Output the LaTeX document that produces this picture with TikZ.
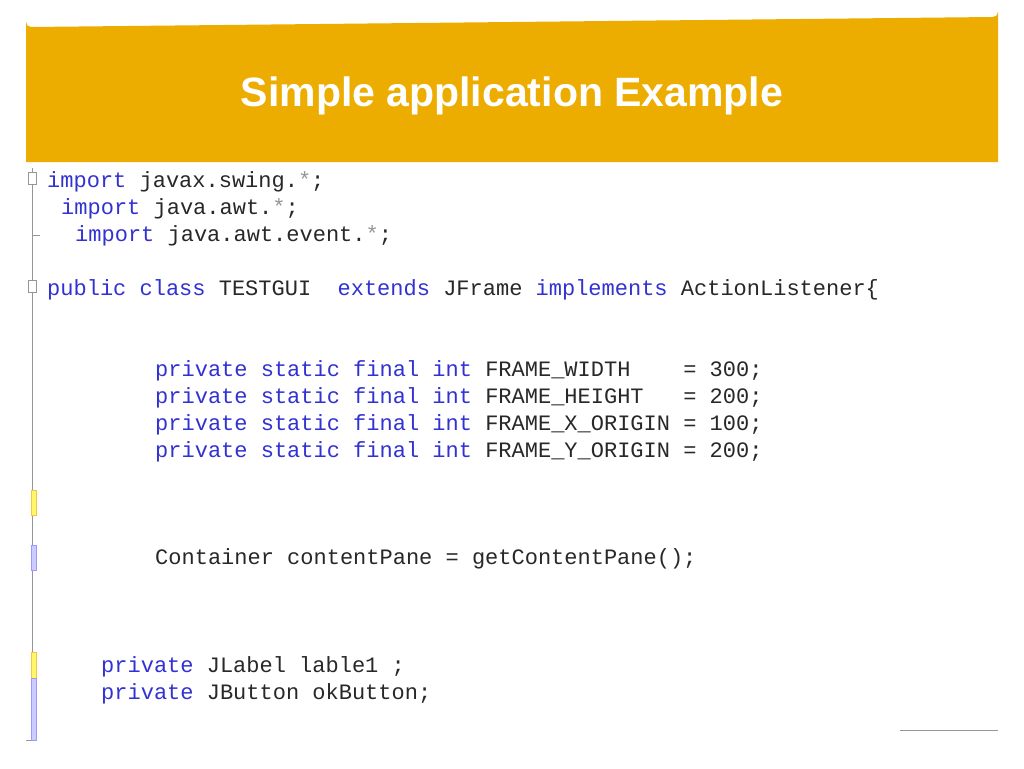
\documentclass[tikz,border=0pt]{standalone}
\usepackage{fontspec}
\setmainfont{Liberation Sans}
\newfontfamily\codefont{Liberation Mono}
\definecolor{hdr}{RGB}{236,172,0}
\definecolor{kw}{RGB}{50,50,210}
\definecolor{tx}{RGB}{40,40,40}
\definecolor{gr}{RGB}{150,150,150}
\newcommand{\kw}[1]{\textcolor{kw}{#1}}
\newcommand{\st}{\textcolor{gr}{*}}
\begin{document}
\begin{tikzpicture}[x=1pt,y=-1pt,
  code/.style={anchor=base west,inner sep=0pt,font=\codefont\fontsize{22}{22}\selectfont,text=tx}]
\useasboundingbox (0,0) rectangle (1024,768);
\fill[white] (0,0) rectangle (1024,768);
\fill[hdr] (26,162) -- (26,22) arc[start angle=180,end angle=90,radius=5] -- (993,17) arc[start angle=90,end angle=0,radius=5] -- (998,162) -- cycle;
\node[font=\bfseries\fontsize{41}{41}\selectfont,text=white,anchor=center] (title) at (512,96) {Simple application Example};
\draw[gr,line width=1pt] (32,168) -- (32,740);
\draw[gr] (900,730) -- (998,730);
\draw[gr] (26,740) -- (32,740);
\draw[gr] (32,235) -- (40,235);
\fill[white,draw=gr] (28,172) rectangle (36,184);
\fill[white,draw=gr] (28,280) rectangle (36,292);
\fill[yellow!60,draw=hdr!70] (31,490) rectangle (36,515);
\fill[blue!20,draw=blue!40] (31,545) rectangle (36,570);
\fill[yellow!60,draw=hdr!70] (31,652) rectangle (36,678);
\fill[blue!20,draw=blue!40] (31,678) rectangle (36,740);
\node[code] (l1) at (47,187) {\kw{import} javax.swing.\st;};
\node[code] (l2) at (61,214) {\kw{import} java.awt.\st;};
\node[code] (l3) at (75,241) {\kw{import} java.awt.event.\st;};
\node[code] (l4) at (47,295) {\kw{public class} TESTGUI\ \ \kw{extends} JFrame \kw{implements} ActionListener\{};
\node[code] (l5) at (155,376) {\kw{private static final int} FRAME\_WIDTH\ \ \ \ = 300;};
\node[code] (l6) at (155,403) {\kw{private static final int} FRAME\_HEIGHT\ \ \ = 200;};
\node[code] (l7) at (155,430) {\kw{private static final int} FRAME\_X\_ORIGIN = 100;};
\node[code] (l8) at (155,457) {\kw{private static final int} FRAME\_Y\_ORIGIN = 200;};
\node[code] (l9) at (155,564) {Container contentPane = getContentPane();};
\node[code] (l10) at (101,672) {\kw{private} JLabel lable1 ;};
\node[code] (l11) at (101,699) {\kw{private} JButton okButton;};
\end{tikzpicture}
\end{document}
